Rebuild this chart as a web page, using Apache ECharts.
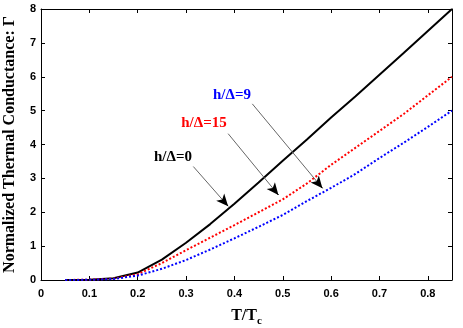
<!DOCTYPE html>
<html>
<head>
<meta charset="utf-8">
<script src="https://cdn.jsdelivr.net/npm/echarts@6/dist/echarts.min.js"></script>
<style>
  html, body { margin: 0; padding: 0; background: #fff; }
  #main { width: 463px; height: 328px; }
</style>
</head>
<body>
<div id="main"></div>
<script>
// T/Tc values
var tVals = [0.05, 0.1, 0.15, 0.2, 0.25, 0.3, 0.35, 0.4, 0.45, 0.5, 0.55, 0.6, 0.65, 0.7, 0.75, 0.8, 0.85];
// h/Delta = 0
var gamma0 = [0, 0.01, 0.05, 0.22, 0.6, 1.1, 1.65, 2.25, 2.88, 3.52, 4.15, 4.8, 5.42, 6.06, 6.7, 7.35, 8.0];
// h/Delta = 15
var gamma15 = [0, 0.01, 0.04, 0.17, 0.5, 0.88, 1.25, 1.62, 2.0, 2.38, 2.85, 3.4, 3.9, 4.4, 4.9, 5.45, 6.0];
// h/Delta = 9
var gamma9 = [0, 0.005, 0.03, 0.13, 0.33, 0.59, 0.9, 1.23, 1.57, 1.92, 2.33, 2.72, 3.13, 3.6, 4.05, 4.52, 5.0];

var yTicks = [0, 1, 2, 3, 4, 5, 6, 7, 8];

// annotation text and arrows (data coords)
var annoText = ['h/\u0394=0', 'h/\u0394=15', 'h/\u0394=9'];
var annoColor = ['#000', '#ff0000', '#0000ff'];
var annoAt = [[0.273, 3.63], [0.337, 4.63], [0.395, 5.46]];
var arrowFrom = [[0.315, 3.35], [0.387, 4.32], [0.437, 5.2]];
var arrowTo = [[0.387, 2.18], [0.491, 2.51], [0.582, 2.71]];

function pairs(ys) {
  return tVals.map(function (t, i) { return [t, ys[i]]; });
}

// point a bit before the tip, so the head can be drawn black
function nearTip(a, b, f) {
  return [a[0] + (b[0] - a[0]) * f, a[1] + (b[1] - a[1]) * f];
}

var chart = echarts.init(document.getElementById('main'));

var serif = 'Liberation Serif';
var sans = 'Liberation Sans';

function annotations(i) {
  return {
    markPoint: {
      symbol: 'circle',
      symbolSize: 0,
      silent: true,
      data: [{
        coord: annoAt[i],
        label: {
          show: true,
          formatter: annoText[i],
          position: 'inside',
          color: annoColor[i],
          fontFamily: serif,
          fontWeight: 'bold',
          fontSize: 15
        }
      }]
    },
    markLine: {
      silent: true,
      symbol: ['none', 'none'],
      label: { show: false },
      lineStyle: { color: '#666', width: 1, type: 'solid' },
      data: [
        [{ coord: arrowFrom[i] }, { coord: arrowTo[i] }],
        [
          { coord: nearTip(arrowFrom[i], arrowTo[i], 0.93), symbol: 'none' },
          { coord: arrowTo[i], symbol: 'arrow', symbolSize: [8, 12], lineStyle: { color: '#000', width: 1 } }
        ]
      ]
    }
  };
}

var s0 = Object.assign({
  name: 'h0', type: 'line', data: pairs(gamma0), showSymbol: false,
  lineStyle: { color: '#000', width: 2 }, itemStyle: { color: '#000' }
}, annotations(0));
var s15 = Object.assign({
  name: 'h15', type: 'line', data: pairs(gamma15), showSymbol: false,
  lineStyle: { color: '#ff0000', width: 2, type: [2, 2] }, itemStyle: { color: '#ff0000' }
}, annotations(1));
var s9 = Object.assign({
  name: 'h9', type: 'line', data: pairs(gamma9), showSymbol: false,
  lineStyle: { color: '#0000ff', width: 2, type: [2, 2] }, itemStyle: { color: '#0000ff' }
}, annotations(2));

var tickStyle = { show: true, inside: true, length: 4, lineStyle: { color: '#000' } };
var axisLineStyle = { show: true, onZero: false, lineStyle: { color: '#000', width: 1 } };

var option = {
  animation: false,
  grid: { left: 41, right: 11, top: 9, bottom: 48, outerBoundsMode: 'none', containLabel: false },
  xAxis: [{
    type: 'value',
    min: 0, max: 0.85, interval: 0.1,
    name: '{a|T/T}{b|c}',
    nameLocation: 'middle',
    nameGap: 24,
    nameTextStyle: {
      rich: {
        a: { fontFamily: serif, fontWeight: 'bold', fontSize: 16, color: '#000' },
        b: { fontFamily: serif, fontWeight: 'bold', fontSize: 11, color: '#000', padding: [12, 0, 0, 0] }
      }
    },
    axisLine: axisLineStyle,
    axisTick: tickStyle,
    splitLine: { show: false },
    axisLabel: {
      showMaxLabel: false,
      margin: 8,
      color: '#000', fontFamily: sans, fontWeight: 'bold', fontSize: 11
    }
  }, {
    type: 'value', position: 'top',
    min: 0, max: 0.85, interval: 0.1,
    axisLine: axisLineStyle, axisTick: tickStyle,
    axisLabel: { show: false }, splitLine: { show: false }
  }],
  yAxis: [{
    type: 'value',
    min: yTicks[0], max: yTicks[yTicks.length - 1], interval: 1,
    name: 'Normalized Thermal Conductance: \u0393',
    nameLocation: 'middle',
    nameGap: 23,
    nameTextStyle: { fontFamily: serif, fontWeight: 'bold', fontSize: 16, color: '#000' },
    axisLine: axisLineStyle,
    axisTick: tickStyle,
    splitLine: { show: false },
    axisLabel: { margin: 5, color: '#000', fontFamily: sans, fontWeight: 'bold', fontSize: 11 }
  }, {
    type: 'value', position: 'right',
    min: yTicks[0], max: yTicks[yTicks.length - 1], interval: 1,
    axisLine: axisLineStyle, axisTick: tickStyle,
    axisLabel: { show: false }, splitLine: { show: false }
  }],
  series: [s0, s15, s9]
};

chart.setOption(option);
</script>
</body>
</html>
